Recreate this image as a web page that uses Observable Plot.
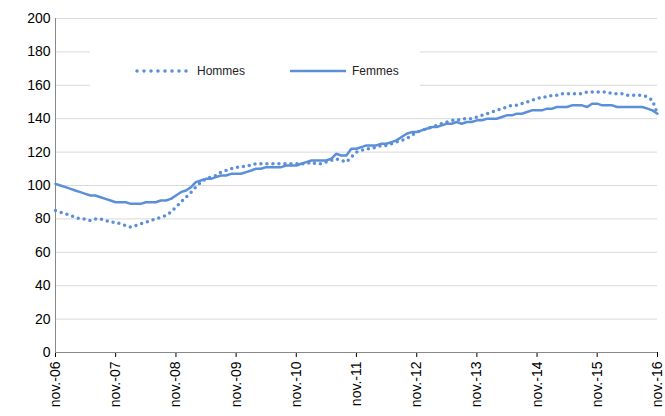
<!DOCTYPE html>
<html><head><meta charset="utf-8">
<script src="https://cdn.jsdelivr.net/npm/d3@7"></script>
<script src="https://cdn.jsdelivr.net/npm/@observablehq/plot@0.6"></script>
<style>body{margin:0;background:#fff;font-family:"Liberation Sans",Arial,sans-serif}#c{position:relative;width:665px;height:416px;overflow:hidden}
#leg{position:absolute;left:90px;top:42px;width:330px;height:58px;background:#fff;font-size:12px;color:#222}
.it{position:absolute;top:22px;display:flex;align-items:center;gap:6px}</style>
</head><body><div id="c"><div id="leg">
<div class="it" style="left:45px"><svg width="56" height="6"><line x1="2" y1="3" x2="56" y2="3" stroke="#5b8fd9" stroke-width="3.5" stroke-dasharray="0,7" stroke-linecap="round"/></svg>Hommes</div>
<div class="it" style="left:200px"><svg width="56" height="6"><line x1="0" y1="3" x2="56" y2="3" stroke="#5b8fd9" stroke-width="2.5"/></svg>Femmes</div>
</div></div>
<script>
const start = new Date(Date.UTC(2006,10,1));
const hommes = [85,84,83,82,81,80,80,79,80,80,79,78,
78,77,76,75,76,77,78,79,80,81,82,84,
87,90,93,96,99,102,104,105,106,108,109,110,
111,111,112,112,113,113,113,113,113,113,113,113,
113,113,113,114,113,113,114,115,116,115,114,117,
120,121,122,122,123,124,124,125,126,127,128,130,
132,133,134,135,136,137,138,139,139,140,140,140,
141,142,143,144,145,146,147,148,148,149,150,151,
152,153,153,154,154,155,155,155,155,155,156,156,
156,156,156,155,155,155,154,154,154,154,153,151,143];
const femmes = [101,100,99,98,97,96,95,94,94,93,92,91,
90,90,90,89,89,89,90,90,90,91,91,92,
94,96,97,99,102,103,104,104,105,106,106,107,
107,107,108,109,110,110,111,111,111,111,112,112,
112,113,114,115,115,115,115,116,119,118,118,122,
122,123,124,124,124,125,125,126,127,129,131,132,
132,133,134,135,135,136,137,137,138,137,138,138,
139,139,140,140,140,141,142,142,143,143,144,145,
145,145,146,146,147,147,147,148,148,148,147,149,
149,148,148,148,147,147,147,147,147,147,146,145,143];
const yTicks = [0,20,40,60,80,100,120,140,160,180,200];
const xTicks = d3.range(0,11).map(i=>new Date(Date.UTC(2006+i,10,1)));
const d = m => d3.utcMonth.offset(start,m);
const H = hommes.map((v,i)=>({date:d(i),v})), F = femmes.map((v,i)=>({date:d(i),v}));
const chart = Plot.plot({
  width:665,height:416,marginLeft:55,marginRight:8,marginTop:18,marginBottom:64,
  style:{fontFamily:"Liberation Sans, Arial, sans-serif",fontSize:"14px",color:"#000"},
  x:{type:"utc",domain:[start,d(120)],ticks:xTicks,tickFormat:t=>"nov.-"+d3.utcFormat("%y")(t),tickRotate:-90,label:null,tickSize:5},
  y:{domain:[0,200],ticks:yTicks,label:null,tickSize:0,tickPadding:5},
  marks:[
    Plot.gridY(yTicks,{stroke:"#d9d9d9",strokeOpacity:1}),
    Plot.ruleY([0],{stroke:"#888"}),
    Plot.ruleX([start],{stroke:"#888"}),
    Plot.line(F,{x:"date",y:"v",stroke:"#5b8fd9",strokeWidth:2.5}),
    Plot.line(H,{x:"date",y:"v",stroke:"#5b8fd9",strokeWidth:3.5,strokeDasharray:"0,6",strokeLinecap:"round"})
  ]
});
document.getElementById("c").prepend(chart);
</script></body></html>
